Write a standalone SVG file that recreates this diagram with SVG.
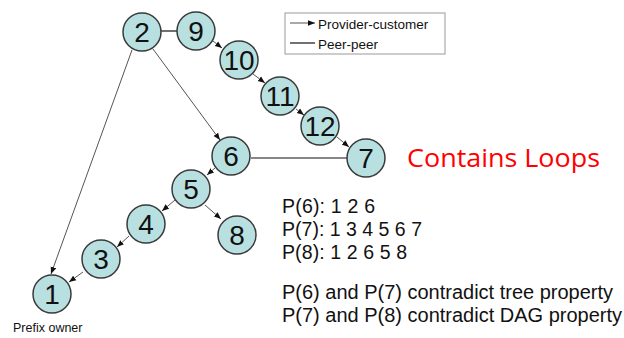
<svg xmlns="http://www.w3.org/2000/svg" width="624" height="338" viewBox="0 0 624 338">
<style>
.node circle{fill:#b9e0e1;stroke:#3a3a3a;stroke-width:1.5}
.node text{font-family:"Liberation Sans",Arial,sans-serif;font-size:28px;fill:#111;text-anchor:middle}
.edge{stroke:#555;stroke-width:1;fill:none}
.arr{marker-end:url(#ah)}
.peer{stroke:#111;stroke-width:1.2}
.lbl{font-family:"Liberation Sans",Arial,sans-serif;fill:#111}
</style>
<defs>
<marker id="ah" viewBox="0 0 10 10" refX="10" refY="5" markerWidth="7" markerHeight="7" markerUnits="userSpaceOnUse" orient="auto">
<path d="M0,1 L10,5 L0,9 z" fill="#111"/>
</marker>
</defs>
<rect x="285" y="13" width="160" height="41" fill="#fff" stroke="#999" stroke-width="1"/>
<line x1="290" y1="23" x2="315" y2="23" class="edge arr" stroke="#111"/>
<text x="318" y="29" class="lbl" font-size="13.5">Provider-customer</text>
<line x1="290" y1="43" x2="315" y2="43" class="peer"/>
<text x="318" y="49" class="lbl" font-size="13.5">Peer-peer</text>
<g id="connectors">
<line class="peer" x1="161" y1="31" x2="177" y2="31"/>
<line class="peer" x1="251" y1="158" x2="347" y2="158"/>
<line class="edge arr" x1="213" y1="41" x2="222" y2="48"/>
<line class="edge arr" x1="253" y1="74" x2="265" y2="83"/>
<line class="edge arr" x1="296" y1="109" x2="304" y2="115"/>
<line class="edge arr" x1="337" y1="137" x2="349" y2="147"/>
<line class="edge arr" x1="132" y1="50" x2="51" y2="274"/>
<line class="edge arr" x1="153" y1="49" x2="220" y2="140"/>
<line class="edge arr" x1="215" y1="168" x2="207" y2="175"/>
<line class="edge arr" x1="175" y1="200" x2="162" y2="211"/>
<line class="edge arr" x1="129" y1="236" x2="117" y2="247"/>
<line class="edge arr" x1="83" y1="272" x2="69" y2="282"/>
<line class="edge arr" x1="205" y1="205" x2="221" y2="219"/>
</g>
<g id="n2" class="node"><circle cx="142" cy="32" r="19"/><text x="142" y="42">2</text></g>
<g id="n9" class="node"><circle cx="196" cy="31" r="19"/><text x="196" y="41">9</text></g>
<g id="n10" class="node"><circle cx="239" cy="60" r="19"/><text x="239" y="70">10</text></g>
<g id="n11" class="node"><circle cx="280" cy="96" r="19"/><text x="280" y="106">11</text></g>
<g id="n12" class="node"><circle cx="320" cy="126" r="19"/><text x="320" y="136">12</text></g>
<g id="n7" class="node"><circle cx="366" cy="158" r="19"/><text x="366" y="168">7</text></g>
<g id="n6" class="node"><circle cx="231" cy="156" r="19"/><text x="231" y="166">6</text></g>
<g id="n5" class="node"><circle cx="191" cy="189" r="19"/><text x="191" y="199">5</text></g>
<g id="n8" class="node"><circle cx="237" cy="235" r="19"/><text x="237" y="245">8</text></g>
<g id="n4" class="node"><circle cx="146" cy="224" r="19"/><text x="146" y="234">4</text></g>
<g id="n3" class="node"><circle cx="101" cy="259" r="19"/><text x="101" y="269">3</text></g>
<g id="n1" class="node"><circle cx="52" cy="294" r="19"/><text x="52" y="304">1</text></g>
<text x="13" y="332" class="lbl" font-size="12.5">Prefix owner</text>
<text x="407" y="167" font-family="'Open Sans','Liberation Sans',sans-serif" font-size="26" fill="#ff0000" textLength="193" lengthAdjust="spacingAndGlyphs">Contains Loops</text>
<g class="lbl" font-size="19.5">
<text x="282" y="213" textLength="93">P(6): 1 2 6</text>
<text x="282" y="236" textLength="140">P(7): 1 3 4 5 6 7</text>
<text x="282" y="259" textLength="125">P(8): 1 2 6 5 8</text>
<text x="282" y="299" textLength="331" lengthAdjust="spacingAndGlyphs">P(6) and P(7) contradict tree property</text>
<text x="282" y="322" textLength="340" lengthAdjust="spacingAndGlyphs">P(7) and P(8) contradict DAG property</text>
</g>
</svg>
